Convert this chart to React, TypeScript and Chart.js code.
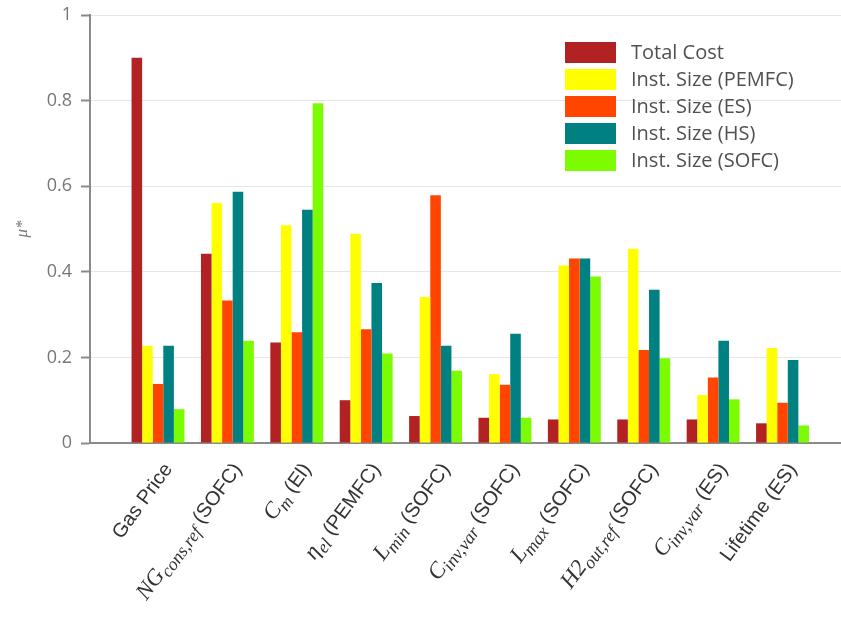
import React, { useEffect, useRef } from "react";
import { Chart, registerables } from "chart.js";

Chart.register(...registerables);

// Sensitivity measure per input parameter (x) for each output (series)
type Seg = [string, "t" | "m" | "s"];

const categoryLabels: Seg[][] = [
  [["Gas Price", "t"]],
  [["NG", "m"], ["cons,ref", "s"], [" (SOFC)", "t"]],
  [["C", "m"], ["m", "s"], [" (El)", "t"]],
  [["η", "m"], ["el", "s"], [" (PEMFC)", "t"]],
  [["L", "m"], ["min", "s"], [" (SOFC)", "t"]],
  [["C", "m"], ["inv,var", "s"], [" (SOFC)", "t"]],
  [["L", "m"], ["max", "s"], [" (SOFC)", "t"]],
  [["H2", "m"], ["out,ref", "s"], [" (SOFC)", "t"]],
  [["C", "m"], ["inv,var", "s"], [" (ES)", "t"]],
  [["Lifetime (ES)", "t"]],
];

const seriesNames = [
  "Total Cost",
  "Inst. Size (PEMFC)",
  "Inst. Size (ES)",
  "Inst. Size (HS)",
  "Inst. Size (SOFC)",
];

const totalCost = [0.9, 0.442, 0.235, 0.1, 0.063, 0.059, 0.055, 0.055, 0.055, 0.046];
const sizePEMFC = [0.227, 0.561, 0.509, 0.489, 0.341, 0.161, 0.415, 0.454, 0.112, 0.222];
const sizeES = [0.138, 0.333, 0.259, 0.266, 0.579, 0.136, 0.431, 0.217, 0.153, 0.094];
const sizeHS = [0.227, 0.587, 0.545, 0.374, 0.227, 0.255, 0.431, 0.358, 0.239, 0.194];
const sizeSOFC = [0.079, 0.239, 0.794, 0.209, 0.169, 0.059, 0.389, 0.198, 0.102, 0.041];

const seriesColors = ["#B22222", "#FFFF00", "#FF4500", "#008080", "#7CFC00"];

const yTicks = [0, 0.2, 0.4, 0.6, 0.8, 1];

const LABEL_ANGLE = (54 * Math.PI) / 180;
const FONT_TEXT = '20px "Liberation Sans"';
const FONT_MATH = 'italic 23px "Liberation Serif"';
const FONT_SUB = 'italic 18px "Liberation Serif"';

// Rotated category labels with italic symbols and subscripts
const categoryLabelPlugin = {
  id: "categoryLabels",
  afterDraw(chart: any) {
    const xs = chart.scales.x;
    const ctx = chart.ctx as CanvasRenderingContext2D;
    const baseY = chart.chartArea.bottom;
    ctx.save();
    ctx.fillStyle = "#333";
    ctx.textBaseline = "alphabetic";
    ctx.textAlign = "left";
    categoryLabels.forEach((segs, i) => {
      const cx = xs.getPixelForValue(i);
      const fontOf = (k: string) => (k === "m" ? FONT_MATH : k === "s" ? FONT_SUB : FONT_TEXT);
      let total = 0;
      const widths = segs.map(([t, k]) => {
        ctx.font = fontOf(k);
        const w = ctx.measureText(t).width;
        total += w;
        return w;
      });
      ctx.save();
      ctx.translate(cx + 15, baseY + 26);
      ctx.rotate(-LABEL_ANGLE);
      let x = -total;
      segs.forEach(([t, k], j) => {
        ctx.font = fontOf(k);
        ctx.fillText(t, x, k === "s" ? 5 : 0);
        x += widths[j];
      });
      ctx.restore();
    });
    ctx.restore();
  },
};

// Legend drawn as a column of swatches inside the plot
const legendPlugin = {
  id: "boxLegend",
  afterDraw(chart: any) {
    const ctx = chart.ctx as CanvasRenderingContext2D;
    ctx.save();
    ctx.font = '20px "Open Sans"';
    ctx.textBaseline = "middle";
    ctx.textAlign = "left";
    chart.data.datasets.forEach((ds: any, i: number) => {
      const y = 42 + i * 27;
      ctx.fillStyle = ds.backgroundColor;
      ctx.fillRect(565, y, 51, 21);
      ctx.fillStyle = "#505050";
      ctx.fillText(ds.label, 631, y + 11);
    });
    ctx.restore();
  },
};

export default function App() {
  const canvasRef = useRef<HTMLCanvasElement | null>(null);

  useEffect(() => {
    document.body.style.margin = "0";
    const canvas = canvasRef.current;
    if (!canvas) return;
    const seriesValues = [totalCost, sizePEMFC, sizeES, sizeHS, sizeSOFC];
    const chart = new Chart(canvas, {
      type: "bar",
      data: {
        datasets: seriesValues.map((vals, s) => ({
          label: seriesNames[s],
          data: vals.map((v, i) => ({ x: i, y: v })),
          backgroundColor: seriesColors[s],
          borderWidth: 0,
          categoryPercentage: 0.778,
          barPercentage: 1,
        })),
      },
      options: {
        animation: false,
        responsive: false,
        devicePixelRatio: 1,
        layout: { padding: { top: 15, right: 0, bottom: 0, left: 0 } },
        plugins: { legend: { display: false }, tooltip: { enabled: false } },
        scales: {
          x: {
            type: "linear",
            min: -0.98,
            max: 9.843,
            offset: false,
            ticks: { display: false },
            grid: { display: false },
            border: { display: true, color: "#8a8a8a", width: 2 },
            afterFit(scale: any) {
              scale.height = 174;
              scale.paddingLeft = 0;
              scale.paddingRight = 0;
            },
          },
          y: {
            type: "linear",
            min: 0,
            max: 1,
            afterBuildTicks(scale: any) {
              scale.ticks = yTicks.map((v) => ({ value: v }));
            },
            ticks: {
              color: "#777",
              padding: 9,
              font: { family: "Open Sans", size: 18 },
              callback: (v: any) => String(v),
            },
            grid: {
              color: "#e6e6e6",
              lineWidth: 1,
              tickLength: 9,
              tickColor: "#8a8a8a",
              tickWidth: 2,
            },
            border: { display: true, color: "#8a8a8a", width: 2 },
            title: {
              display: true,
              text: "μ*",
              color: "#777",
              font: { family: "Liberation Serif", size: 17, style: "italic" },
              padding: { top: 12, bottom: 0 },
            },
            afterFit(scale: any) {
              scale.width = 90;
              scale.paddingTop = 0;
              scale.paddingBottom = 0;
            },
          },
        },
      },
      plugins: [categoryLabelPlugin, legendPlugin],
    } as any);
    return () => chart.destroy();
  }, []);

  return (
    <div style={{ width: 841, height: 617, background: "#fff" }}>
      <canvas ref={canvasRef} width={841} height={617} />
    </div>
  );
}
